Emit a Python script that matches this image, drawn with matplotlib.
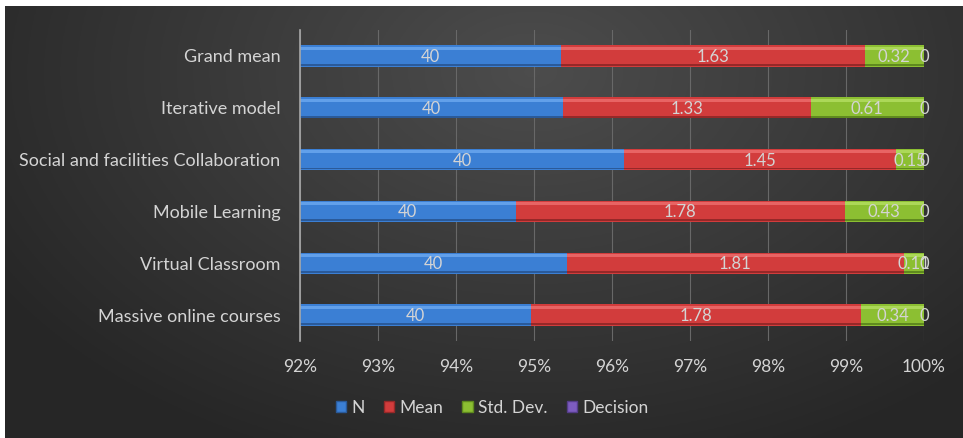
import matplotlib.pyplot as plt
import numpy as np
from matplotlib.patches import Patch

categories = ['Massive online courses', 'Virtual Classroom', 'Mobile Learning',
              'Social and facilities Collaboration', 'Iterative model', 'Grand mean']
n_vals = [40, 40, 40, 40, 40, 40]
mean_vals = [1.78, 1.81, 1.78, 1.45, 1.33, 1.63]
std_vals = [0.34, 0.11, 0.43, 0.15, 0.61, 0.32]
decision_vals = [0, 0, 0, 0, 0, 0]
series_names = ['N', 'Mean', 'Std. Dev.', 'Decision']
xticks = [92, 93, 94, 95, 96, 97, 98, 99, 100]

colors = ['#3b7fd4', '#d23c3c', '#8cbf32', '#7d5cc0']
light = ['#62a0ea', '#e86464', '#acd858', '#a487e0']
dark = ['#2a5a9a', '#962828', '#5f8a1e', '#553d8a']
text_col = '#d4d4d4'

plt.rcParams['font.family'] = ['Lato', 'DejaVu Sans']

W, H = 963, 438
fig = plt.figure(figsize=(W / 100, H / 100), dpi=100, facecolor='white')

# dark radial background
bg = fig.add_axes([5 / W, 0, 1 - 5 / W, 1 - 6 / H])
yy, xx = np.mgrid[0:1:200j, 0:1:400j]
r = np.sqrt(((xx - 0.55) / 0.75) ** 2 + ((yy - 0.15) / 1.1) ** 2)
shade = np.clip(0.30 - 0.17 * r, 0.15, 0.31)
bg.imshow(np.dstack([shade] * 3), aspect='auto', extent=[0, 1, 0, 1])
bg.set_axis_off()

ax = fig.add_axes([300 / W, 1 - 341 / H, 624 / W, 311 / H])
ax.patch.set_alpha(0)

xmin, xmax = xticks[0], xticks[-1]
data = np.array([n_vals, mean_vals, std_vals, decision_vals], dtype=float)
pct = data / data.sum(axis=0) * 100
y = np.arange(len(categories))
h = 0.41
left = np.zeros(len(categories))
for i, name in enumerate(series_names):
    ax.barh(y, pct[i], h, left=left, color=colors[i], zorder=3)
    # simple bevel: light top band, dark bottom band
    ax.barh(y + h * 0.36, pct[i], h * 0.14, left=left, color=light[i], zorder=4)
    ax.barh(y - h * 0.42, pct[i], h * 0.08, left=left, color=dark[i], zorder=4)
    for j in range(len(categories)):
        # label sits in the middle of the visible part of the segment
        lo = max(left[j], xmin)
        hi = left[j] + pct[i][j]
        ax.text((lo + hi) / 2, y[j] - 0.02, '{:g}'.format(data[i][j]), ha='center',
                va='center', color=text_col, fontsize=12, zorder=6)
    left += pct[i]

ax.set_xlim(xmin, xmax)
ax.set_ylim(-0.5, len(categories) - 0.5)
ax.set_xticks(xticks)
ax.set_xticklabels(['{}%'.format(t) for t in xticks])
ax.set_yticks(y)
ax.set_yticklabels(categories, fontsize=13)
ax.tick_params(axis='both', length=0, colors=text_col)
ax.tick_params(axis='x', pad=13, labelsize=12.5)
ax.tick_params(axis='y', pad=14)
ax.grid(axis='x', color='#686868', linewidth=0.8, zorder=1)
for s in ['top', 'right', 'bottom']:
    ax.spines[s].set_visible(False)
ax.spines['left'].set_color('#a8a8a8')
ax.spines['left'].set_linewidth(1.2)
ax.spines['left'].set_zorder(5)

handles = [Patch(facecolor=c, edgecolor=d, label=n) for c, d, n in zip(colors, dark, series_names)]
leg = fig.legend(handles=handles, loc='center', bbox_to_anchor=(492 / W, 1 - 408 / H),
                 ncol=4, frameon=False, fontsize=12.5, handlelength=0.6, handleheight=0.6,
                 handletextpad=0.3, columnspacing=1.1)
for t in leg.get_texts():
    t.set_color(text_col)

fig.savefig('out.png', dpi=100, facecolor='white')
